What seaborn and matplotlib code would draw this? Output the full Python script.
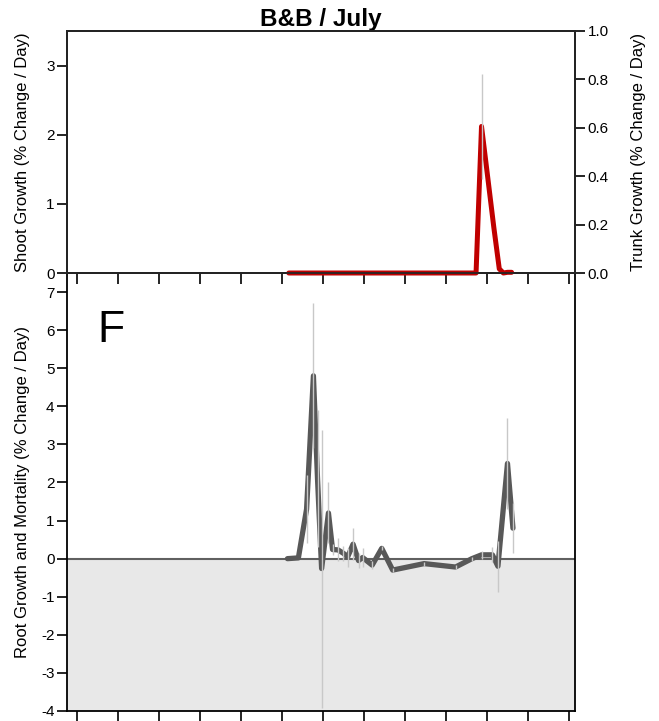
import numpy as np
import pandas as pd
import matplotlib
matplotlib.use("Agg")
import matplotlib.pyplot as plt
import seaborn as sns

# Sampling dates (day of season) and measured rates
shoot_day = [155, 202, 254, 292, 296, 305, 309, 312, 315, 318]
shoot_rate = [0.0, 0.0, 0.0, 0.0, 2.12, 0.66, 0.06, 0.0, 0.01, 0.01]
shoot_se = [0.0, 0.0, 0.0, 0.0, 0.76, 0.0, 0.0, 0.0, 0.0, 0.0]

root_day = [154, 162, 168, 173, 176, 179, 184, 187, 191, 195, 198, 202, 206,
            209, 216, 223, 231, 254, 277, 289, 296, 304, 308, 315, 319]
root_rate = [0.0, 0.02, 1.3, 4.8, 2.1, -0.26, 1.2, 0.24, 0.23, 0.14, 0.04,
             0.38, -0.05, 0.03, -0.17, 0.27, -0.3, -0.13, -0.22, 0.0, 0.1,
             0.1, -0.2, 2.5, 0.8]
root_se = [0.0, 0.0, 0.9, 1.9, 1.8, 3.65, 0.8, 0.15, 0.3, 0.2, 0.25, 0.42,
           0.2, 0.25, 0.1, 0.05, 0.05, 0.05, 0.05, 0.05, 0.1, 0.2, 0.67, 1.2,
           0.65]

tick_days = list(range(0, 361, 30))
shoot_ticks = [0, 1, 2, 3]
trunk_ticks = [0.0, 0.2, 0.4, 0.6, 0.8, 1.0]
root_ticks = [-4, -3, -2, -1, 0, 1, 2, 3, 4, 5, 6, 7]

sns.set_style("ticks")
plt.rcParams["font.family"] = ["Liberation Sans", "DejaVu Sans"]
plt.rcParams["axes.linewidth"] = 1.3
plt.rcParams["axes.unicode_minus"] = False
plt.rcParams["text.color"] = "black"
plt.rcParams["axes.labelcolor"] = "black"
plt.rcParams["xtick.color"] = "black"
plt.rcParams["ytick.color"] = "black"

W, H = 659, 721
fig = plt.figure(figsize=(W / 100, H / 100), dpi=100)

L, R = 67, 575
bot_ax = fig.add_axes([L / W, 1 - 711 / H, (R - L) / W, (711 - 273) / H])
top_ax = fig.add_axes([L / W, 1 - 273 / H, (R - L) / W, (273 - 31) / H])
top_ax.patch.set_visible(False)

xlim = (-7.3, 364.4)
red = "#c00000"
dark = "#585858"
err_c = "#c8c8c8"

# ---- Shoot growth panel ----
shoot = pd.DataFrame({"day": shoot_day, "rate": shoot_rate})
sns.lineplot(data=shoot, x="day", y="rate", ax=top_ax, color=red,
             linewidth=3.6, solid_joinstyle="round", solid_capstyle="round",
             zorder=3, clip_on=False)
top_ax.errorbar(shoot_day, shoot_rate, yerr=shoot_se, fmt="none",
                ecolor=err_c, elinewidth=1, zorder=4)
top_ax.set_xlim(*xlim)
top_ax.set_ylim(0, 3.5)
top_ax.set_yticks(shoot_ticks)
top_ax.set_xticks(tick_days)
top_ax.set_xticklabels([])
top_ax.set_xlabel("")
top_ax.set_ylabel("Shoot Growth (% Change / Day)", fontsize=12)
top_ax.yaxis.set_label_coords(-0.073, 0.5)
top_ax.tick_params(axis="y", labelsize=11, length=7, width=1.2, pad=2)
top_ax.tick_params(axis="x", length=8, width=1.2)
for s in top_ax.spines.values():
    s.set_visible(True)
    s.set_color("black")
top_ax.set_title("B&B / July", fontsize=17.5, fontweight="bold", pad=3)

trunk_ax = top_ax.twinx()
trunk_ax.patch.set_visible(False)
trunk_ax.set_ylim(0, 1.0)
trunk_ax.set_yticks(trunk_ticks)
trunk_ax.set_yticklabels([f"{v:.1f}" for v in trunk_ticks])
trunk_ax.tick_params(axis="y", labelsize=11, length=7, width=1.2, pad=2)
trunk_ax.set_ylabel("Trunk Growth (% Change / Day)", fontsize=12)
trunk_ax.yaxis.set_label_coords(1.11, 0.5)

# ---- Root growth and mortality panel ----
bot_ax.set_xlim(*xlim)
bot_ax.set_ylim(-4, 7.5)
bot_ax.axhspan(-4, 0, color="#e8e8e8", zorder=0, lw=0)
bot_ax.axhline(0, color="#606060", lw=1.5, zorder=1)
root = pd.DataFrame({"day": root_day, "rate": root_rate})
sns.lineplot(data=root, x="day", y="rate", ax=bot_ax, color=dark,
             linewidth=3.8, solid_joinstyle="round", solid_capstyle="round",
             zorder=3)
bot_ax.errorbar(root_day, root_rate, yerr=root_se, fmt="none",
                ecolor=err_c, elinewidth=1, zorder=4)
bot_ax.set_yticks(root_ticks)
bot_ax.set_xticks(tick_days)
bot_ax.set_xticklabels([])
bot_ax.set_xlabel("")
bot_ax.set_ylabel("Root Growth and Mortality (% Change / Day)", fontsize=12)
bot_ax.yaxis.set_label_coords(-0.073, 0.5)
bot_ax.tick_params(axis="y", labelsize=11, length=7, width=1.2, pad=2)
bot_ax.tick_params(axis="x", length=8, width=1.2)
bot_ax.spines["top"].set_visible(False)
for k in ("left", "right", "bottom"):
    bot_ax.spines[k].set_visible(True)
    bot_ax.spines[k].set_color("black")
bot_ax.text(0.06, 0.915, "F", transform=bot_ax.transAxes, fontsize=32,
            va="top", ha="left")

fig.savefig("out.png", dpi=100)
